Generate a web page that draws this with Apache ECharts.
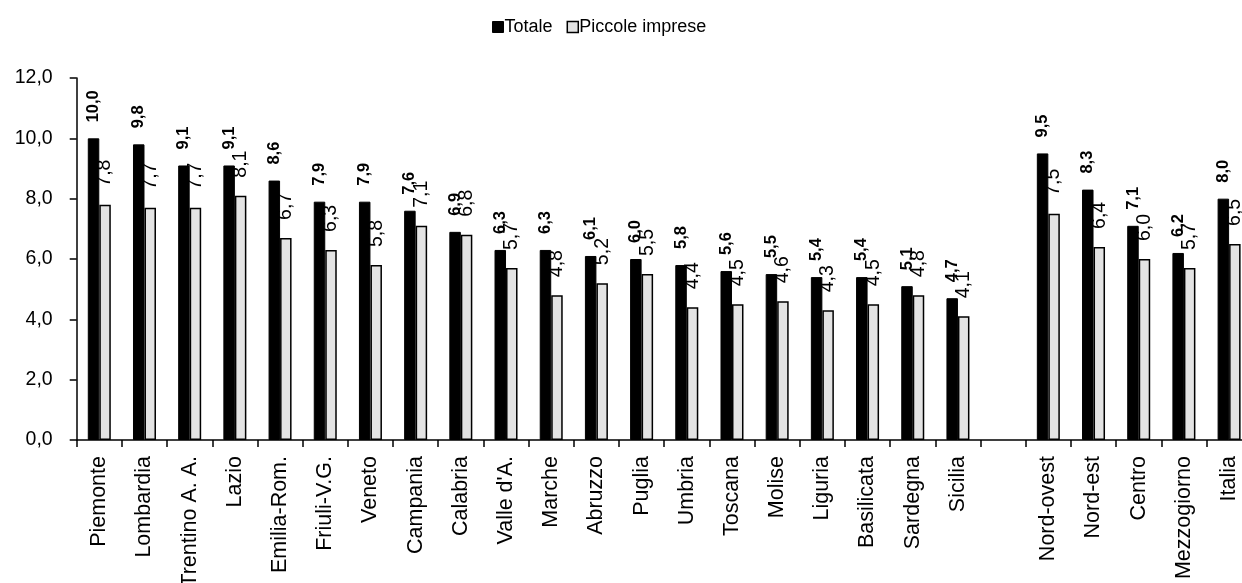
<!DOCTYPE html>
<html>
<head>
<meta charset="utf-8">
<script src="https://cdn.jsdelivr.net/npm/echarts@6/dist/echarts.min.js"></script>
<style>
  html, body { margin: 0; padding: 0; background: #fff; }
  #chart { width: 1242px; height: 583px; }
</style>
</head>
<body>
<div id="chart"></div>
<script>
// Regions, then an empty slot, then macro-areas and Italy
const categories = [
  'Piemonte', 'Lombardia', 'Trentino A. A.', 'Lazio', 'Emilia-Rom.', 'Friuli-V.G.',
  'Veneto', 'Campania', 'Calabria', "Valle d'A.", 'Marche', 'Abruzzo', 'Puglia',
  'Umbria', 'Toscana', 'Molise', 'Liguria', 'Basilicata', 'Sardegna', 'Sicilia',
  '', 'Nord-ovest', 'Nord-est', 'Centro', 'Mezzogiorno', 'Italia'
];
const totale = [
  10.0, 9.8, 9.1, 9.1, 8.6, 7.9, 7.9, 7.6, 6.9, 6.3, 6.3, 6.1, 6.0,
  5.8, 5.6, 5.5, 5.4, 5.4, 5.1, 4.7,
  null, 9.5, 8.3, 7.1, 6.2, 8.0
];
const piccoleImprese = [
  7.8, 7.7, 7.7, 8.1, 6.7, 6.3, 5.8, 7.1, 6.8, 5.7, 4.8, 5.2, 5.5,
  4.4, 4.5, 4.6, 4.3, 4.5, 4.8, 4.1,
  null, 7.5, 6.4, 6.0, 5.7, 6.5
];
const yTicks = { min: 0, max: 12, interval: 2 };

const FONT = '"Liberation Sans", Arial, sans-serif';
const fmt = v => Number(v).toFixed(1).replace('.', ',');

const chart = echarts.init(document.getElementById('chart'), null, { renderer: 'canvas' });
chart.setOption({
  animation: false,
  textStyle: { fontFamily: FONT, color: '#000' },
  legend: {
    top: 13,
    left: 487,
    itemWidth: 11,
    itemHeight: 11,
    itemGap: 14,
    icon: 'rect',
    textStyle: { fontFamily: FONT, fontSize: 18, color: '#000', padding: [0, 0, 0, -4] },
    data: [
      { name: 'Totale', itemStyle: { color: '#000', borderColor: '#000', borderWidth: 1 } },
      { name: 'Piccole imprese', itemStyle: { color: '#e3e3e3', borderColor: '#000', borderWidth: 1.5 } }
    ]
  },
  grid: { left: 76.7, right: -9.7, top: 78, bottom: 143, containLabel: false, outerBoundsMode: 'none' },
  xAxis: {
    type: 'category',
    data: categories,
    axisLine: { lineStyle: { color: '#000', width: 1.5 } },
    axisTick: { show: true, length: 7, lineStyle: { color: '#000', width: 1.5 } },
    axisLabel: {
      rotate: 90, interval: 0, margin: 16,
      fontFamily: FONT, fontSize: 21.5, color: '#000'
    }
  },
  yAxis: {
    type: 'value',
    min: yTicks.min, max: yTicks.max, interval: yTicks.interval,
    axisLine: { show: true, lineStyle: { color: '#000', width: 1.5 } },
    axisTick: { show: true, length: 7, lineStyle: { color: '#000', width: 1.5 } },
    splitLine: { show: false },
    axisLabel: {
      margin: 24, fontFamily: FONT, fontSize: 19.5, color: '#000',
      formatter: v => fmt(v)
    }
  },
  series: [
    {
      name: 'Totale',
      type: 'bar',
      data: totale,
      barWidth: 11.5,
      barGap: '0%',
      itemStyle: { color: '#000', borderColor: '#000', borderWidth: 1 },
      label: {
        show: true, position: 'top', rotate: 90, align: 'left', verticalAlign: 'middle',
        distance: 16, fontFamily: FONT, fontWeight: 'bold', fontSize: 16.5, color: '#000',
        formatter: p => fmt(p.value)
      }
    },
    {
      name: 'Piccole imprese',
      type: 'bar',
      data: piccoleImprese,
      barWidth: 11.5,
      itemStyle: { color: '#e3e3e3', borderColor: '#000', borderWidth: 1.5 },
      label: {
        show: true, position: 'top', rotate: 90, align: 'left', verticalAlign: 'middle',
        distance: 18, fontFamily: FONT, fontSize: 19.5, color: '#000',
        formatter: p => fmt(p.value)
      }
    }
  ]
});
</script>
</body>
</html>
